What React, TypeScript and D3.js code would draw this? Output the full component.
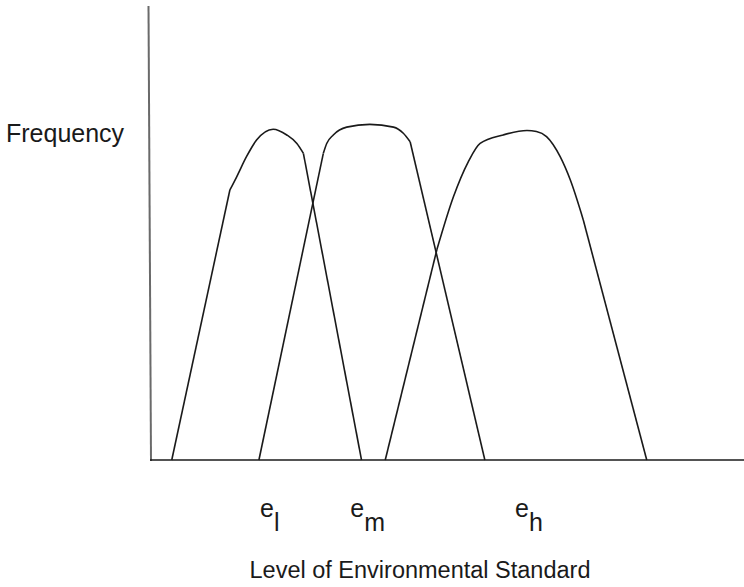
import React from "react";
import * as d3 from "d3";

// Level of environmental standard (x) and relative frequency (y) for each curve
const lowX = [3.5, 13.3, 14.45, 16.1, 17.8, 20.6, 22.9, 24.6, 25.7, 35.5];
const lowY = [0, 79.4, 83.3, 89.2, 94.1, 97.3, 95.6, 93.1, 90.2, 0];

const midX = [18.2, 29.06, 29.63, 30.74, 33.0, 36.9, 40.9, 42.55, 43.7, 56.3];
const midY = [0, 90.2, 93.1, 95.6, 97.9, 98.7, 97.9, 96.1, 93.6, 0];

const highX = [39.5, 48.2, 51.0, 53.5, 55.5, 59.4, 63.4, 65.0, 66.7, 69.0, 70.7, 72.9, 83.6];
const highY = [0, 61.8, 77.4, 87.7, 93.1, 95.6, 96.9, 96.6, 95.1, 89.2, 82.4, 70.6, 0];

const labelSub = ["l", "m", "h"];
const labelX = [18.4, 33.6, 61.4];

const yTitle = "Frequency";
const xTitle = "Level of Environmental Standard";

const W = 744;
const H = 587;

export default function App() {
  const x = d3.scaleLinear().domain([0, 100]).range([151, 744]);
  const y = d3.scaleLinear().domain([0, 100]).range([460, 120]);

  const straight = d3
    .line<[number, number]>()
    .x((d) => x(d[0]))
    .y((d) => y(d[1]))
    .curve(d3.curveLinear);
  const smooth = d3
    .line<[number, number]>()
    .x((d) => x(d[0]))
    .y((d) => y(d[1]))
    .curve(d3.curveMonotoneX);

  const series = [
    lowX.map((v, i) => [v, lowY[i]] as [number, number]),
    midX.map((v, i) => [v, midY[i]] as [number, number]),
    highX.map((v, i) => [v, highY[i]] as [number, number]),
  ];

  const font = "'Liberation Sans', Arial, Helvetica, sans-serif";
  const ink = "#1a1a1a";

  return (
    <svg
      width={W}
      height={H}
      style={{ position: "absolute", left: 0, top: 0, background: "#fff" }}
    >
      <rect x={0} y={0} width={W} height={H} fill="#fff" />
      {/* y axis */}
      <line x1={148.5} y1={6} x2={151} y2={461} stroke="#6a6a6a" strokeWidth={2} />
      {/* x axis */}
      <line x1={150} y1={y(0)} x2={744} y2={y(0)} stroke={ink} strokeWidth={1.7} />
      {series.map((s, i) => {
        const n = s.length;
        return (
          <g key={i} fill="none" stroke={ink} strokeWidth={1.6} strokeLinejoin="round">
            <path d={straight(s.slice(0, 2)) || ""} />
            <path d={smooth(s.slice(1, n - 1)) || ""} />
            <path d={straight(s.slice(n - 2)) || ""} />
          </g>
        );
      })}
      <text x={6} y={142} fontFamily={font} fontSize={25} fill={ink}>
        {yTitle}
      </text>
      {labelSub.map((s, i) => (
        <text key={s} x={x(labelX[i])} y={517} fontFamily={font} fontSize={25} fill={ink}>
          e
          <tspan dy={14} fontSize={25}>
            {s}
          </tspan>
        </text>
      ))}
      <text x={420} y={578} textAnchor="middle" fontFamily={font} fontSize={23.5} fill={ink}>
        {xTitle}
      </text>
    </svg>
  );
}
